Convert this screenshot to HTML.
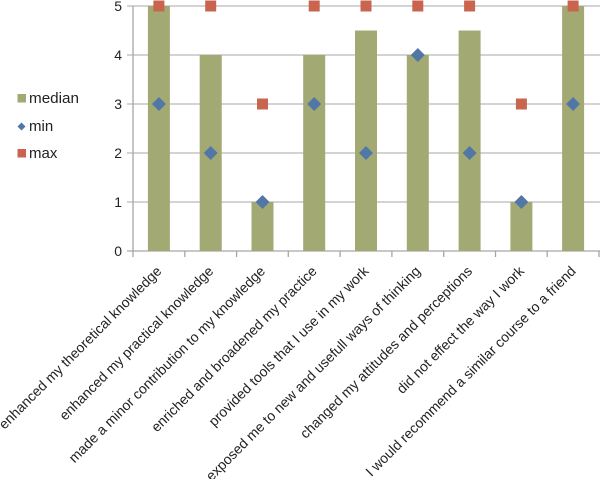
<!DOCTYPE html>
<html>
<head>
<meta charset="utf-8">
<style>
html,body{margin:0;padding:0;background:#fff;}
svg{display:block;}
text{font-family:"Liberation Sans",Arial,sans-serif;fill:#222;}
</style>
</head>
<body>
<svg width="600" height="479" viewBox="0 0 600 479" xmlns="http://www.w3.org/2000/svg">
  <!-- gridlines -->
  <g stroke="#b9b9b9" stroke-width="1.3">
    <line x1="127" y1="6" x2="600" y2="6"/>
    <line x1="127" y1="55" x2="600" y2="55"/>
    <line x1="127" y1="104" x2="600" y2="104"/>
    <line x1="127" y1="153" x2="600" y2="153"/>
    <line x1="127" y1="202" x2="600" y2="202"/>
  </g>
  <!-- axes -->
  <g stroke="#a6a6a6" stroke-width="1.3">
    <line x1="133" y1="6" x2="133" y2="251"/>
    <line x1="127" y1="251" x2="600" y2="251"/>
    <line x1="133" y1="251" x2="133" y2="257"/>
    <line x1="184.8" y1="251" x2="184.8" y2="257"/>
    <line x1="236.6" y1="251" x2="236.6" y2="257"/>
    <line x1="288.3" y1="251" x2="288.3" y2="257"/>
    <line x1="340.1" y1="251" x2="340.1" y2="257"/>
    <line x1="391.9" y1="251" x2="391.9" y2="257"/>
    <line x1="443.7" y1="251" x2="443.7" y2="257"/>
    <line x1="495.5" y1="251" x2="495.5" y2="257"/>
    <line x1="547.2" y1="251" x2="547.2" y2="257"/>
    <line x1="599" y1="251" x2="599" y2="257"/>
  </g>
  <!-- y labels -->
  <g font-size="14" text-anchor="end">
    <text x="122" y="11">5</text>
    <text x="122" y="60">4</text>
    <text x="122" y="109">3</text>
    <text x="122" y="158">2</text>
    <text x="122" y="207">1</text>
    <text x="122" y="256">0</text>
  </g>
  <!-- bars (median) -->
  <g fill="#a2a972">
    <rect x="147.9" y="6" width="22" height="245"/>
    <rect x="199.7" y="55" width="22" height="196"/>
    <rect x="251.5" y="202" width="22" height="49"/>
    <rect x="303.2" y="55" width="22" height="196"/>
    <rect x="355" y="30.5" width="22" height="220.5"/>
    <rect x="406.8" y="55" width="22" height="196"/>
    <rect x="458.6" y="30.5" width="22" height="220.5"/>
    <rect x="510.4" y="202" width="22" height="49"/>
    <rect x="562.1" y="6" width="22" height="245"/>
  </g>
  <!-- min diamonds -->
  <g fill="#5277a7">
    <polygon points="158.9,97 165.9,104 158.9,111 151.9,104"/>
    <polygon points="210.7,146 217.7,153 210.7,160 203.7,153"/>
    <polygon points="262.5,195 269.5,202 262.5,209 255.5,202"/>
    <polygon points="314.2,97 321.2,104 314.2,111 307.2,104"/>
    <polygon points="366,146 373,153 366,160 359,153"/>
    <polygon points="417.8,48 424.8,55 417.8,62 410.8,55"/>
    <polygon points="469.6,146 476.6,153 469.6,160 462.6,153"/>
    <polygon points="521.4,195 528.4,202 521.4,209 514.4,202"/>
    <polygon points="573.1,97 580.1,104 573.1,111 566.1,104"/>
  </g>
  <!-- max squares -->
  <g fill="#c9654f">
    <rect x="153.4" y="0.5" width="11" height="11"/>
    <rect x="205.2" y="0.5" width="11" height="11"/>
    <rect x="257" y="98.5" width="11" height="11"/>
    <rect x="308.7" y="0.5" width="11" height="11"/>
    <rect x="360.5" y="0.5" width="11" height="11"/>
    <rect x="412.3" y="0.5" width="11" height="11"/>
    <rect x="464.1" y="0.5" width="11" height="11"/>
    <rect x="515.9" y="98.5" width="11" height="11"/>
    <rect x="567.6" y="0.5" width="11" height="11"/>
  </g>
  <!-- legend -->
  <rect x="17.5" y="94" width="8.5" height="8.5" fill="#a2a972"/>
  <text x="29" y="103" font-size="15" textLength="50" lengthAdjust="spacingAndGlyphs">median</text>
  <polygon points="21.5,122.5 25.5,126.5 21.5,130.5 17.5,126.5" fill="#5277a7"/>
  <text x="29" y="131" font-size="15">min</text>
  <rect x="17.5" y="149" width="8.5" height="8.5" fill="#c9654f"/>
  <text x="29" y="158" font-size="15">max</text>
  <!-- x labels -->
  <g font-size="14" text-anchor="end">
    <text transform="translate(162.4,272) rotate(-45)">enhanced my theoretical knowledge</text>
    <text transform="translate(214.2,272) rotate(-45)">enhanced my practical knowledge</text>
    <text transform="translate(266,272) rotate(-45)">made a minor contribution to my knowledge</text>
    <text transform="translate(317.7,272) rotate(-45)">enriched and broadened my practice</text>
    <text transform="translate(369.5,272) rotate(-45)">provided tools that I use in my work</text>
    <text transform="translate(421.3,272) rotate(-45)">exposed me to new and usefull ways of thinking</text>
    <text transform="translate(473.1,272) rotate(-45)">changed my attitudes and perceptions</text>
    <text transform="translate(524.9,272) rotate(-45)">did not effect the way I work</text>
    <text transform="translate(576.6,272) rotate(-45)">I would recommend a similar course to a friend</text>
  </g>
</svg>
</body>
</html>
